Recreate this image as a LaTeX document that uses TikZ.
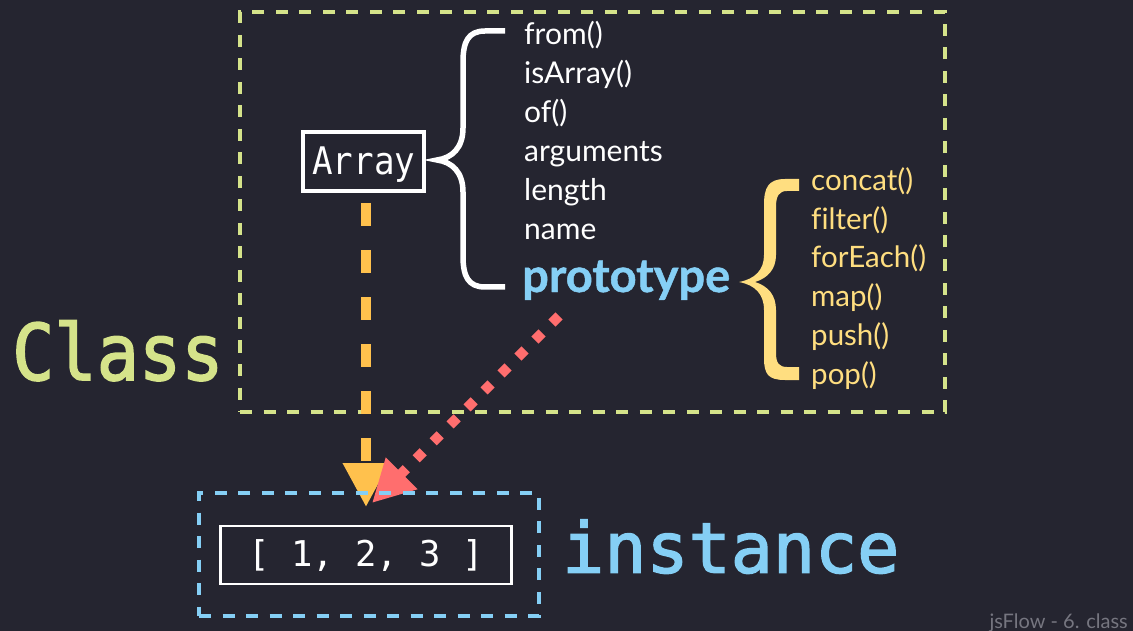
\documentclass[tikz,border=0pt]{standalone}
\usepackage{fontspec}
\setmainfont[Ligatures=NoCommon]{Lato}
\newfontfamily\monoF{DejaVu Sans Mono}
\newfontfamily\monoM[FakeBold=2]{DejaVu Sans Mono}
\newfontfamily\monoC[FakeStretch=0.9]{DejaVu Sans Mono}
\newfontfamily\monoCM[FakeStretch=0.9,FakeBold=2]{DejaVu Sans Mono}
\usetikzlibrary{arrows.meta}
\definecolor{bgc}{RGB}{37,37,48}
\definecolor{cgreen}{RGB}{213,227,138}
\definecolor{corange}{RGB}{255,193,77}
\definecolor{cred}{RGB}{255,110,110}
\definecolor{cblue}{RGB}{133,207,245}
\definecolor{cyellow}{RGB}{255,222,128}
\definecolor{cgrey}{RGB}{118,118,128}
\tikzset{
  wtext/.style={anchor=base west, text=white, inner sep=0pt, font=\fontsize{30}{30}\selectfont},
  ytext/.style={anchor=base west, text=cyellow, inner sep=0pt, font=\fontsize{29.5}{29.5}\selectfont},
  dashbox/.style={line width=4pt, dash pattern=on 12pt off 11.5pt, inner sep=0pt},
}
\begin{document}
\begin{tikzpicture}[x=1pt,y=-1pt]
\fill[bgc] (0,0) rectangle (1133,631);
\useasboundingbox (0,0) rectangle (1133,631);

% class box
\node[dashbox, draw=cgreen, minimum width=705pt, minimum height=400pt] (cls) at (592.5,212) {};
\node[anchor=base west, inner sep=0pt, text=cgreen, font=\monoCM\fontsize{78}{78}\selectfont] (classlbl) at (12,380) {Class};

% Array box
\node[draw=white, line width=4pt, minimum width=121pt, minimum height=59pt, inner sep=0pt] (arr) at (363.8,161.5) {};
\node[anchor=base, inner sep=0pt, text=white, font=\monoC\fontsize{38}{38}\selectfont] (arrtxt) at (363.8,175) {Array};

% white brace
\draw[white, line width=5.5pt] (505,31) -- (485,31) .. controls (468,31) and (463,42) .. (463,62) -- (463,128) .. controls (463,148) and (452,158) .. (437,160) .. controls (452,162) and (463,172) .. (463,192) -- (463,256) .. controls (463,276) and (468,287) .. (485,287) -- (505,287);

\node[wtext] (m1) at (524,44.5) {from()};
\node[wtext] (m2) at (524,83.5) {isArray()};
\node[wtext] (m3) at (524,122.5) {of()};
\node[wtext] (m4) at (524,161.5) {arguments};
\node[wtext] (m5) at (524,200.5) {length};
\node[wtext] (m6) at (524,239.5) {name};
\node[anchor=base west, inner sep=0pt, text=cblue, font=\bfseries\fontsize{47}{47}\selectfont\addfontfeature{FakeBold=1}] (proto) at (522,292) {prototype};

% yellow brace (filled)
\fill[cyellow] (799,179) -- (785,179) .. controls (768,179) and (764,188) .. (764,205) -- (764,255) .. controls (764,270) and (755,279) .. (739,282)
  .. controls (755,285) and (764,294) .. (764,310) -- (764,358) .. controls (764,374) and (768,380) .. (785,380) -- (799,380)
  -- (799,367) -- (787,367) .. controls (779,367) and (776,363) .. (776,353) -- (776,310) .. controls (776,295) and (768,286) .. (755,282)
  .. controls (768,278) and (776,269) .. (776,255) -- (776,207) .. controls (776,196) and (779,191) .. (787,191) -- (799,191) -- cycle;

\node[ytext] (p1) at (811,190.5) {concat()};
\node[ytext] (p2) at (811,229.5) {filter()};
\node[ytext] (p3) at (811,268) {forEach()};
\node[ytext] (p4) at (811,306.5) {map()};
\node[ytext] (p5) at (811,345.5) {push()};
\node[ytext] (p6) at (811,384.5) {pop()};

% connectors
\coordinate (otip) at (366,507);
\coordinate (rstart) at (559,316);
\coordinate (rtip) at (372,503);
\draw[corange, line width=10pt, dash pattern=on 23pt off 24pt, shorten <=10pt, -{Triangle[length=44pt,width=44pt]}] (arr.south -| otip) -- (otip);
\draw[cred, line width=10pt, dash pattern=on 10pt off 14pt, -{Triangle[length=42pt,width=42pt]}] (rstart) -- (rtip);

% instance box
\node[dashbox, draw=cblue, minimum width=340pt, minimum height=123pt] (inst) at (369,554.5) {};
\node[draw=white, line width=2.5pt, minimum width=291pt, minimum height=58pt, inner sep=0pt] (val) at (366.2,555) {};
\node[anchor=base, inner sep=0pt, text=white, font=\monoF\fontsize{35.5}{35.5}\selectfont] (valtxt) at (366.2,566.7) {[ 1, 2, 3 ]};
\node[anchor=base west, inner sep=0pt, text=cblue, font=\monoM\fontsize{70}{70}\selectfont] (instlbl) at (562,572.7) {instance};

\node[anchor=base east, inner sep=0pt, text=cgrey, font=\fontsize{20}{20}\selectfont] (footer) at (1128,628) {jsFlow - 6. class};
\end{tikzpicture}
\end{document}
